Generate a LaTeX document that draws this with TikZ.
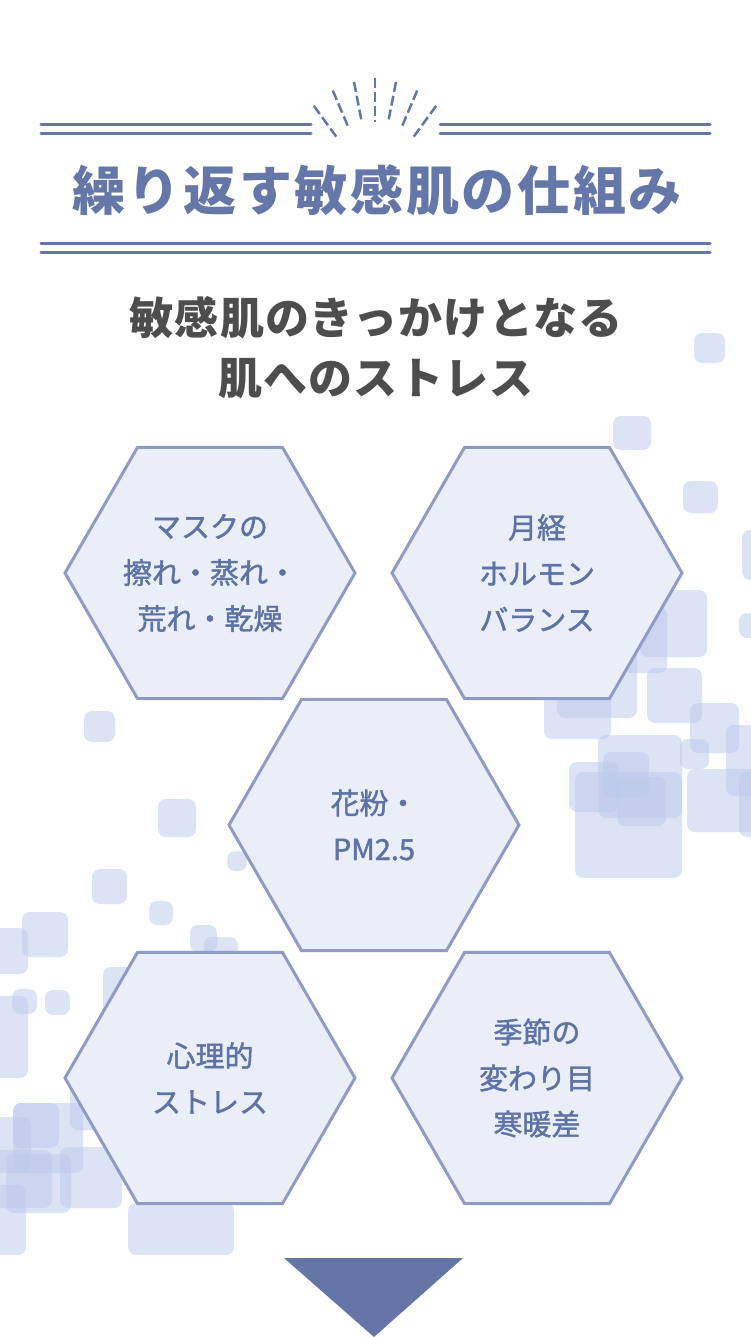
\documentclass[tikz,border=0pt]{standalone}
\usepackage{fontspec}
\newfontfamily\jp{Noto Sans CJK JP}
\newfontfamily\jpmed[FakeBold=1.5]{Noto Sans CJK JP}
\newfontfamily\jptitle[LetterSpace=5]{Noto Sans CJK JP}
\newfontfamily\jpsub[LetterSpace=3]{Noto Sans CJK JP}
\usetikzlibrary{shapes.geometric}
\definecolor{titleblue}{HTML}{6577A8}
\definecolor{hexline}{HTML}{8E9CC5}
\definecolor{hexfill}{HTML}{E9EEF8}
\definecolor{hextext}{HTML}{5F72A5}
\definecolor{sqcol}{RGB}{187,201,235}
\definecolor{subgray}{HTML}{4D4D4D}
\definecolor{arrowblue}{HTML}{6475A6}
\begin{document}
\begin{tikzpicture}[x=1pt,y=-1pt,
  sq/.style={fill=sqcol,fill opacity=0.5,rounded corners=8pt},
  hexbox/.style={regular polygon,regular polygon sides=6,minimum size=290pt,inner sep=0pt,
    draw=hexline,line width=3pt,fill=hexfill,text=hextext,align=center,
    font=\jpmed\fontsize{29}{46}\selectfont},
  rule/.style={draw=titleblue,line width=3pt,line cap=round},
  ray/.style={draw=titleblue,line width=2.5pt,dash pattern=on 10pt off 4pt}]
\useasboundingbox (0,0) rectangle (750,1337);
\fill[white] (0,0) rectangle (750,1337);
% background squares (right cluster)
\foreach \xa/\ya/\xb/\yb in {694/333/725/363, 613/416/651/450, 683/481/718/513,
  742/530/758/580, 739/613/758/638, 640/590/707/657, 623/607/667/673,
  557/630/637/718, 544/650/611/739, 647/668/702/723, 690/703/739/753,
  598/735/682/818, 603/752/649/798, 569/762/619/812, 617/777/666/826,
  575/772/682/878, 680/739/709/769, 687/769/760/832, 726/725/760/796,
  739/772/760/837}
  \fill[sq] (\xa,\ya) rectangle (\xb,\yb);
% background squares (left cluster)
\foreach \xa/\ya/\xb/\yb in {84/711/115/742, 158/799/196/837, 227/851/247/871,
  92/869/127/904, 149/901/173/925, 22/912/68/957, -10/928/28/974,
  12/989/37/1014, 45/990/70/1015, -10/996/28/1078, 190/925/217/952,
  204/937/238/972, 103/967/140/1050, 70/1060/115/1130, 13/1103/59/1148,
  13/1103/83/1173, -10/1117/31/1173, -10/1150/52/1208, 6/1154/71/1213,
  60/1147/122/1208, -10/1185/26/1255, 128/1203/234/1255}
  \fill[sq] (\xa,\ya) rectangle (\xb,\yb);
% heading decoration
\draw[rule] (41,125) -- (311,125);
\draw[rule] (41,134) -- (311,134);
\draw[rule] (440,125) -- (710,125);
\draw[rule] (440,134) -- (710,134);
\draw[rule] (41,244) -- (710,244);
\draw[rule] (41,253) -- (710,253);
\foreach \a/\ri/\ro in {-36/66/104, -23/70/108, -11/72/110, 0/68/112, 11/72/110, 23/70/108, 36/66/104}
  \draw[ray] ({375+\ro*sin(\a)},{190-\ro*cos(\a)}) -- ({375+\ri*sin(\a)},{190-\ri*cos(\a)});
\node[text=titleblue,font=\jptitle\bfseries\fontsize{53}{60}\selectfont] (title) at (377,190) {繰り返す敏感肌の仕組み};
\node[text=subgray,align=center,font=\jpsub\bfseries\fontsize{44}{60}\selectfont] (sub) at (376,348) {敏感肌のきっかけとなる\\肌へのストレス};
% hexagons
\node[hexbox] (h1) at (210,573) {マスクの\\擦れ・蒸れ・\\荒れ・乾燥};
\node[hexbox] (h2) at (537,573) {月経\\ホルモン\\バランス};
\node[hexbox] (h3) at (374,825) {花粉・\\PM2.5};
\node[hexbox] (h4) at (210,1078) {心理的\\ストレス};
\node[hexbox] (h5) at (537,1078) {季節の\\変わり目\\寒暖差};
% arrow
\coordinate (tl) at (284,1258);
\coordinate (tr) at (463,1258);
\coordinate (tb) at (374,1337);
\fill[arrowblue] (tl) -- (tr) -- (tb) -- cycle;
\end{tikzpicture}
\end{document}
